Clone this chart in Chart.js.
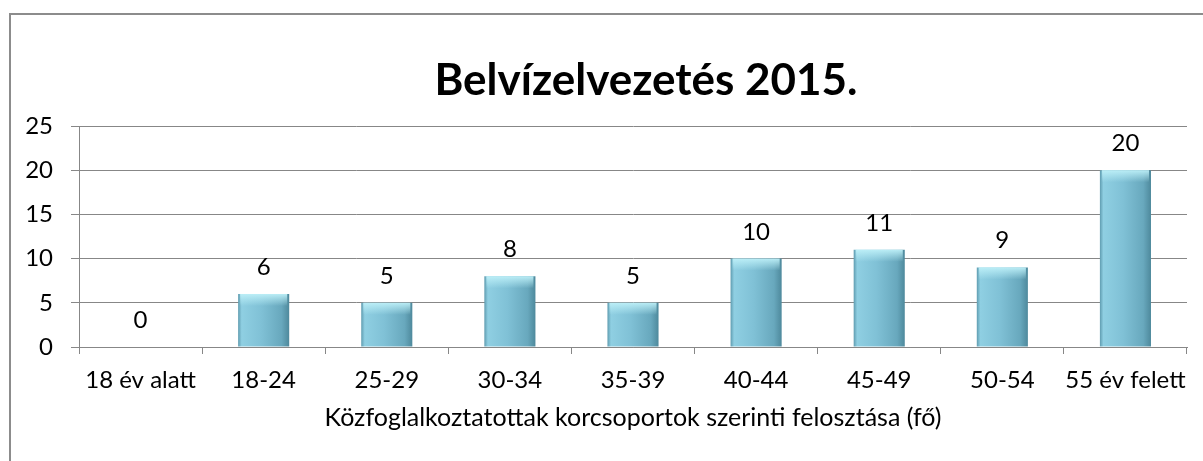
<!DOCTYPE html>
<html>
<head>
<meta charset="utf-8">
<title>Belvízelvezetés 2015.</title>
<script src="https://cdn.jsdelivr.net/npm/chart.js@4.4.1/dist/chart.umd.min.js"></script>
<style>
    html, body { margin: 0; padding: 0; background: #fff; }
    #wrap { position: relative; width: 1203px; height: 461px; }
</style>
</head>
<body>
<div id="wrap"><canvas id="ageChart"></canvas></div>
<script>
const chartTitle = 'Belvízelvezetés 2015.';
const axisTitle = 'Közfoglalkoztatottak korcsoportok szerinti felosztása (fő)';
const ageGroups = ['18 év alatt', '18-24', '25-29', '30-34', '35-39', '40-44', '45-49', '50-54', '55 év felett'];
const workers = [0, 6, 5, 8, 5, 10, 11, 9, 20];
const yTicks = [0, 5, 10, 15, 20, 25];

const FONT = 'Lato, "DejaVu Sans", sans-serif';
const GRID = '#878787';
const BAR_PCT = 0.415;

Chart.defaults.font.family = FONT;
Chart.defaults.color = '#000';

// horizontal shading, like the old Excel cylinder-ish bars
function barFill(context) {
    const chart = context.chart;
    const xs = chart.scales.x;
    if (!chart.chartArea || !xs) return '#7dbdd2';
    const cx = xs.getPixelForValue(context.dataIndex);
    const half = (xs.width / ageGroups.length) * BAR_PCT / 2;
    const g = chart.ctx.createLinearGradient(cx - half, 0, cx + half, 0);
    g.addColorStop(0, '#5f9cb0');
    g.addColorStop(0.07, '#8fcfe2');
    g.addColorStop(0.45, '#80c1d6');
    g.addColorStop(0.85, '#68a8bd');
    g.addColorStop(1, '#4e899c');
    return g;
}

const framePlugin = {
    id: 'frame',
    beforeDraw(chart) {
        const ctx = chart.ctx;
        ctx.save();
        ctx.strokeStyle = '#8c8c8c';
        ctx.lineWidth = 2;
        ctx.strokeRect(10, 14, chart.width + 20, chart.height + 20);
        ctx.restore();
    }
};

const decoPlugin = {
    id: 'deco',
    afterDatasetsDraw(chart) {
        const ctx = chart.ctx;
        const meta = chart.getDatasetMeta(0);
        ctx.save();
        meta.data.forEach((bar, i) => {
            const h = bar.base - bar.y;
            if (h > 2) {
                const capH = Math.min(12, h);
                const g = ctx.createLinearGradient(0, bar.y, 0, bar.y + capH);
                g.addColorStop(0, 'rgba(190,240,248,0.95)');
                g.addColorStop(1, 'rgba(190,240,248,0)');
                ctx.fillStyle = g;
                ctx.fillRect(bar.x - bar.width / 2 + 2, bar.y, bar.width - 4, capH);
            }
            ctx.fillStyle = '#000';
            ctx.font = '24px ' + FONT;
            ctx.textAlign = 'center';
            ctx.textBaseline = 'alphabetic';
            ctx.fillText(String(workers[i]), bar.x, bar.y - 19);
        });
        ctx.font = 'bold 44px ' + FONT;
        ctx.textAlign = 'center';
        ctx.fillText(chartTitle, 646, 95);
        ctx.restore();
    }
};

const ageCtx = document.getElementById('ageChart').getContext('2d');
const ageChart = new Chart(ageCtx, {
    type: 'bar',
    data: {
        labels: ageGroups,
        datasets: [{
            label: 'fő',
            data: workers,
            backgroundColor: barFill,
            borderWidth: 0,
            barPercentage: BAR_PCT,
            categoryPercentage: 1
        }]
    },
    options: {
        responsive: true,
        maintainAspectRatio: false,
        animation: false,
        layout: { padding: { top: 126, right: 16, bottom: 0, left: 0 } },
        plugins: {
            legend: { display: false },
            tooltip: { enabled: false }
        },
        scales: {
            x: {
                afterFit: s => { s.height = 114; },
                grid: { offset: true, drawOnChartArea: false, tickLength: 7, color: GRID },
                border: { color: GRID },
                ticks: { font: { size: 24 }, padding: 12, maxRotation: 0, autoSkip: false },
                title: {
                    display: true,
                    text: axisTitle,
                    font: { size: 25 },
                    padding: { top: 0, bottom: 28 }
                }
            },
            y: {
                min: 0,
                max: 25,
                afterFit: s => { s.width = 79; },
                afterBuildTicks: s => { s.ticks = yTicks.map(v => ({ value: v })); },
                grid: { tickLength: 8, color: GRID },
                border: { color: GRID },
                ticks: { font: { size: 24 }, padding: 18 }
            }
        }
    },
    plugins: [framePlugin, decoPlugin]
});
</script>
</body>
</html>
